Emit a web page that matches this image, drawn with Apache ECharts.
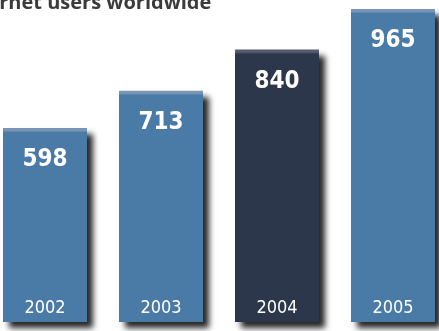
<!DOCTYPE html>
<html><head><meta charset="utf-8">
<script src="https://cdn.jsdelivr.net/npm/echarts@6/dist/echarts.min.js"></script>
<style>html,body{margin:0;padding:0;background:#fff}#c{width:439px;height:331px}</style>
</head><body><div id="c"></div>
<script>
const years = ['2002', '2003', '2004', '2005'];
const users = [598, 713, 840, 965];
const barColors = ['#4a7aa6', '#4a7aa6', '#2c374c', '#4a7aa6'];
const edgeColors = ['#7896b4', '#7896b4', '#545c6d', '#7896b4'];
const titleText = 'Internet users worldwide';

const numFont = '"DejaVu Sans Condensed", "DejaVu Sans"';
const Y_MAX = 993, PLOT_H = 322;
function barFill(i) {
  const h = users[i] * PLOT_H / Y_MAX;
  const s = 2.5 / h;
  return new echarts.graphic.LinearGradient(0, 0, 0, 1, [
    {offset: 0, color: edgeColors[i]},
    {offset: s, color: edgeColors[i]},
    {offset: s * 1.8, color: barColors[i]},
    {offset: 1, color: barColors[i]}
  ]);
}
const chart = echarts.init(document.getElementById('c'), null, {renderer: 'canvas'});
chart.setOption({
  animation: false,
  backgroundColor: '#ffffff',
  graphic: [{
    type: 'text', x: -41, y: 13,
    style: {text: titleText, font: 'bold 20px "Open Sans"', fill: '#3b3b3b', textVerticalAlign: 'bottom'}
  }],
  grid: {left: -13, right: -12, top: 0, bottom: 9, outerBoundsMode: 'none', containLabel: false},
  xAxis: {
    type: 'category', data: years, z: 10,
    axisLine: {show: false}, axisTick: {show: false},
    axisLabel: {inside: true, margin: 5, color: '#ffffff', fontFamily: numFont, fontSize: 18}
  },
  yAxis: {type: 'value', min: 0, max: Y_MAX, show: false, splitLine: {show: false}},
  series: [{
    type: 'bar',
    barWidth: 84,
    data: users.map((v, i) => ({value: v, itemStyle: {color: barFill(i)}})),
    itemStyle: {shadowColor: 'rgba(0,0,0,0.85)', shadowBlur: 6, shadowOffsetX: 6, shadowOffsetY: 6},
    label: {
      show: true, position: 'insideTop', distance: 20, color: '#ffffff',
      fontFamily: numFont, fontWeight: 'bold', fontSize: 24
    }
  }]
});
</script></body></html>
